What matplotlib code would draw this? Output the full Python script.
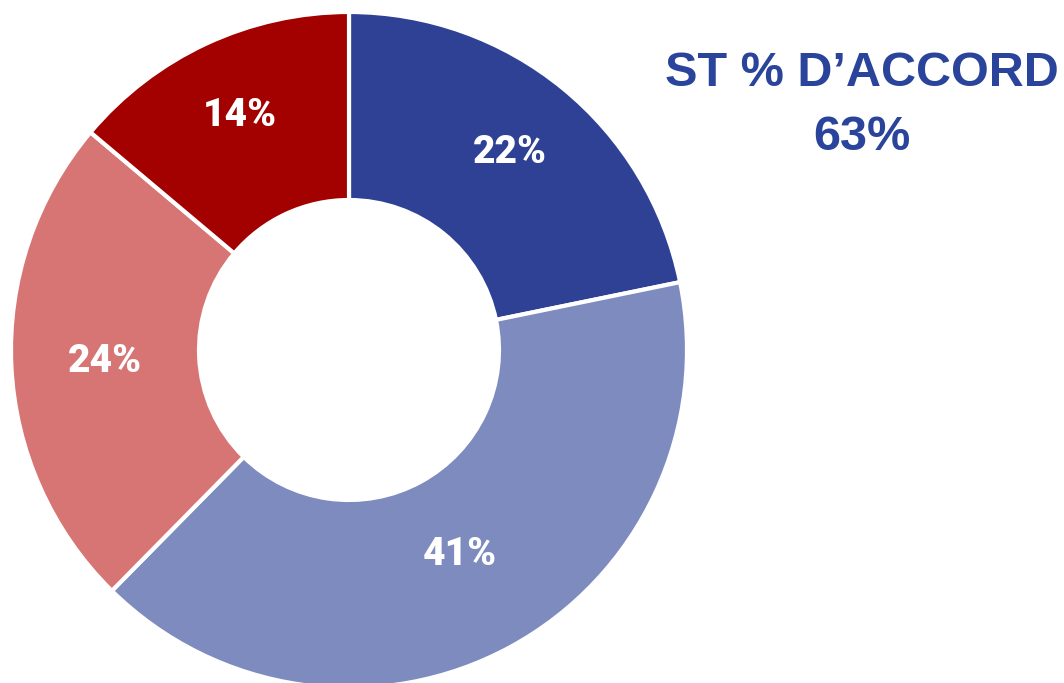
import matplotlib
matplotlib.use("Agg")
import matplotlib.pyplot as plt
import numpy as np

values = [22, 41, 24, 14]
labels = ["22%", "41%", "24%", "14%"]
colors = ["#2F4195", "#7E8BBE", "#D67574", "#A30000"]
title_lines = ["ST % D\u2019ACCORD", "63%"]

# radial placement of the labels, as fraction of outer radius
label_r = [0.754, 0.688, 0.722, 0.766]

W, H = 1064, 683
CX, CY, R = 349, H - 350, 338

fig = plt.figure(figsize=(W / 100, H / 100), dpi=100)
ax = fig.add_axes([0, 0, 1, 1])

ax.pie(values, colors=colors, startangle=90, counterclock=False,
       center=(CX, CY), radius=R,
       wedgeprops=dict(width=188, edgecolor="white", linewidth=3))
ax.set_xlim(0, W)
ax.set_ylim(0, H)
ax.set_aspect("equal")
ax.axis("off")

total = sum(values)
ang = 90.0
for v, lab, fr in zip(values, labels, label_r):
    span = 360.0 * v / total
    mid = np.deg2rad(ang - span / 2)
    ang -= span
    ax.text(CX + fr * R * np.cos(mid), CY + fr * R * np.sin(mid), lab,
            ha="center", va="center", color="white", fontsize=28,
            fontfamily="Roboto", fontweight="black")

ax.text(862, H - 73, title_lines[0], ha="center", va="center", color="#2A449C",
        fontsize=35, fontfamily="Liberation Sans", fontweight="bold")
ax.text(862, H - 137, title_lines[1], ha="center", va="center", color="#2A449C",
        fontsize=35, fontfamily="Liberation Sans", fontweight="bold")

fig.savefig("out.png", dpi=100)
